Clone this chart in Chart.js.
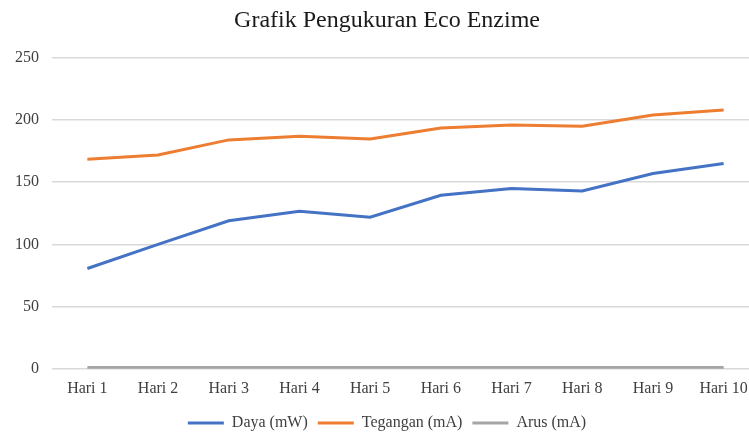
<!DOCTYPE html>
<html><head><meta charset="utf-8">
<script src="https://cdn.jsdelivr.net/npm/chart.js@4/dist/chart.umd.min.js"></script>
<style>
html,body{margin:0;padding:0;background:#fff;overflow:hidden;}
#wrap{width:786px;height:441px;position:relative;}
</style></head>
<body><div id="wrap"><canvas id="c"></canvas></div>
<script>
const categories = ["Hari 1","Hari 2","Hari 3","Hari 4","Hari 5","Hari 6","Hari 7","Hari 8","Hari 9","Hari 10"];
const daya = [80.6, 100, 119, 126.6, 121.8, 139.5, 145, 143, 157, 165];
const tegangan = [168.5, 171.8, 184, 187, 184.7, 193.5, 196, 195, 204, 208];
const arus = [1, 1, 1, 1, 1, 1, 1, 1, 1, 1];
const yTicks = [0, 50, 100, 150, 200, 250];
const FONT = "'Liberation Serif','Times New Roman',serif";
const ds = (label, data, color) => ({label, data, borderColor: color, backgroundColor: color, borderWidth: 3, pointRadius: 0, tension: 0, fill: false});
new Chart(document.getElementById('c'), {
  type: 'line',
  data: { labels: categories, datasets: [
    ds('Daya (mW)', daya, '#4472C4'),
    ds('Tegangan (mA)', tegangan, '#ED7D31'),
    ds('Arus (mA)', arus, '#A5A5A5')
  ]},
  options: {
    responsive: true, maintainAspectRatio: false, animation: false,
    layout: { padding: { left: 15, right: 27, top: 4, bottom: 0 } },
    plugins: {
      title: { display: true, text: 'Grafik Pengukuran Eco Enzime', color: '#1a1a1a', font: { family: FONT, size: 24, weight: 'normal' }, padding: { top: 2, bottom: 23 } },
      legend: { position: 'bottom', labels: { usePointStyle: true, pointStyle: 'line', pointStyleWidth: 36, boxHeight: 3, color: '#404040', font: { family: FONT, size: 16 }, padding: 10 } },
      tooltip: { enabled: false }
    },
    scales: {
      x: { offset: true, grid: { display: false }, border: { display: false }, afterFit: s => { s.height += 5; }, ticks: { color: '#404040', font: { family: FONT, size: 16 }, maxRotation: 0, padding: 2 } },
      y: { min: 0, max: 250, afterBuildTicks: s => { s.ticks = yTicks.map(v => ({value: v})); }, afterFit: s => { s.width = 37; }, grid: { color: '#D9D9D9', lineWidth: 1.5, drawTicks: false }, border: { display: false }, ticks: { color: '#404040', font: { family: FONT, size: 16 }, padding: 13 } }
    }
  }
});
</script></body></html>
